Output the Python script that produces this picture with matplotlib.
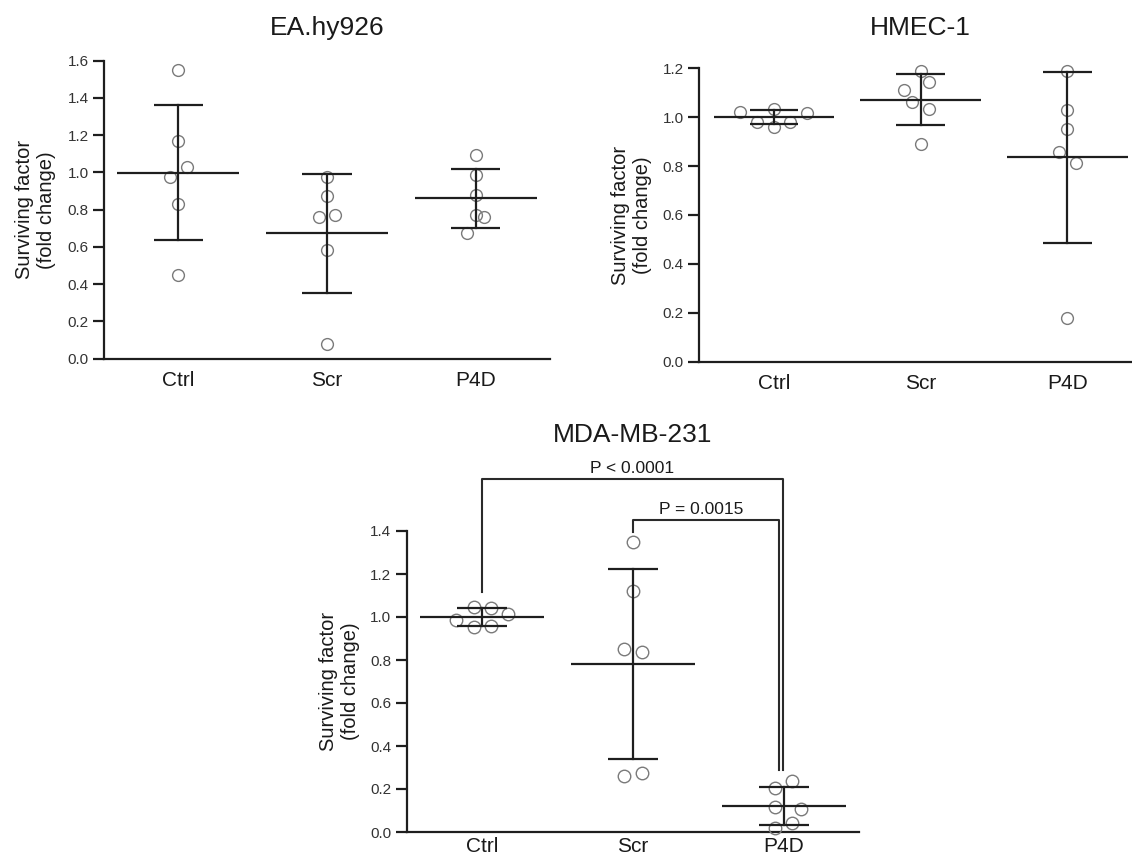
import numpy as np
import matplotlib
matplotlib.use("Agg")
import matplotlib.pyplot as plt
from matplotlib.transforms import blended_transform_factory as btf

plt.rcParams['font.family'] = ['Liberation Sans', 'DejaVu Sans']

groups = ["Ctrl", "Scr", "P4D"]

# ---- EA.hy926 ----
ea_ctrl = [1.548, 1.170, 1.027, 0.973, 0.830, 0.450]
ea_scr = [0.973, 0.871, 0.763, 0.773, 0.581, 0.077]
ea_p4d = [1.094, 0.984, 0.880, 0.769, 0.763, 0.674]
ea_ctrl_swarm = [0, 0, 1, -1, 0, 0]
ea_scr_swarm = [0, 0, -1, 1, 0, 0]
ea_p4d_swarm = [0, 0, 0, 0, 1, -1]

# ---- HMEC-1 ----
hm_ctrl = [1.020, 0.982, 1.034, 0.961, 0.982, 1.017]
hm_scr = [1.190, 1.142, 1.112, 1.062, 1.034, 0.891]
hm_p4d = [1.190, 1.029, 0.951, 0.859, 0.812, 0.177]
hm_ctrl_swarm = [-4, -2, 0, 0, 2, 4]
hm_scr_swarm = [0, 1, -2, -1, 1, 0]
hm_p4d_swarm = [0, 0, 0, -1, 1, 0]

# ---- MDA-MB-231 ----
md_ctrl = [1.048, 1.043, 0.986, 1.012, 0.955, 0.958]
md_scr = [1.347, 1.121, 0.850, 0.836, 0.260, 0.273]
md_p4d = [0.239, 0.203, 0.115, 0.106, 0.040, 0.020]
md_ctrl_swarm = [-1, 1, -3, 3, -1, 1]
md_scr_swarm = [0, 0, -1, 1, -1, 1]
md_p4d_swarm = [1, -1, -1, 2, 1, -1]

titles = ["EA.hy926", "HMEC-1", "MDA-MB-231"]
ylabel = "Surviving factor\n(fold change)"
p_labels = ["P < 0.0001", "P = 0.0015"]

W, H = 1132, 858
fig = plt.figure(figsize=(W / 100, H / 100), dpi=100)


def px_axes(l, r, b, t):
    return fig.add_axes([l / W, 1 - b / H, (r - l) / W, (b - t) / H])


LINE = '#1e1e1e'
MK = '#7a7a7a'
SLOT = 0.057


def panel(ax, data, swarms, ymax, xlim, ms, xpad):
    for i, (vals, sw) in enumerate(zip(data, swarms)):
        v = np.array(vals)
        x = i + np.array(sw) * SLOT
        m = v.mean()
        sd = v.std(ddof=1)
        ax.plot(x, v, 'o', ms=ms, mfc='none', mec=MK, mew=1.0, zorder=3,
                clip_on=False)
        ax.plot([i - 0.41, i + 0.41], [m, m], color=LINE, lw=1.6, zorder=4,
                solid_capstyle='butt')
        ax.plot([i, i], [m - sd, m + sd], color=LINE, lw=1.6, zorder=4)
        for yy in (m - sd, m + sd):
            ax.plot([i - 0.165, i + 0.165], [yy, yy], color=LINE, lw=1.6,
                    zorder=4, solid_capstyle='butt')
    ax.set_xlim(*xlim)
    ax.set_ylim(0, ymax)
    ax.set_yticks(np.arange(0, ymax + 0.01, 0.2))
    ax.set_yticklabels([f"{t:.1f}" for t in np.arange(0, ymax + 0.01, 0.2)])
    ax.set_xticks(range(3))
    ax.set_xticklabels(groups, fontsize=15)
    for s in ('top', 'right'):
        ax.spines[s].set_visible(False)
    for s in ('left', 'bottom'):
        ax.spines[s].set_linewidth(1.6)
        ax.spines[s].set_color(LINE)
    ax.tick_params(axis='y', length=8, width=1.6, color=LINE, labelsize=11,
                   pad=3, labelcolor='#333333')
    ax.tick_params(axis='x', length=0, pad=xpad, labelcolor='#1a1a1a')


ax1 = px_axes(104, 550, 358.7, 60.7)
panel(ax1, [ea_ctrl, ea_scr, ea_p4d], [ea_ctrl_swarm, ea_scr_swarm, ea_p4d_swarm],
      1.6, (-0.5, 2.5), 8.5, 9)
ax2 = px_axes(699, 1132, 361.6, 68.3)
panel(ax2, [hm_ctrl, hm_scr, hm_p4d], [hm_ctrl_swarm, hm_scr_swarm, hm_p4d_swarm],
      1.2, (-0.509, 2.44), 8.5, 9)
ax3 = px_axes(406.7, 859.3, 832, 531)
panel(ax3, [md_ctrl, md_scr, md_p4d], [md_ctrl_swarm, md_scr_swarm, md_p4d_swarm],
      1.4, (-0.5, 2.5), 9, 3.5)

for ax, t, ty in zip((ax1, ax2, ax3), titles, (28, 28, 435)):
    ax.text(1, 1 - ty / H, t, transform=btf(ax.transData, fig.transFigure),
            ha='center', va='center', fontsize=19, color='#1a1a1a')

for ax, lx in zip((ax1, ax2, ax3), (35, 631.5, 339)):
    fig.text(lx / W, 0.5, ylabel, transform=btf(fig.transFigure, ax.transAxes),
             rotation=90, ha='center', va='center', fontsize=14.5,
             multialignment='center', color='#1a1a1a')

# significance brackets
BR = '#2a2a2a'
ax3.plot([0, 0, 1.997, 1.997], [1.114, 1.642, 1.642, 0.288], color=BR, lw=1.5,
         clip_on=False)
ax3.plot([1, 1, 1.969, 1.969], [1.397, 1.451, 1.451, 0.288], color=BR, lw=1.5,
         clip_on=False)
ax3.text(0.995, 1.657, p_labels[0], ha='center', va='bottom', fontsize=12.5,
         color='#1a1a1a', clip_on=False)
ax3.text(1.45, 1.466, p_labels[1], ha='center', va='bottom', fontsize=12.5,
         color='#1a1a1a', clip_on=False)

fig.savefig("out.png", dpi=100)
